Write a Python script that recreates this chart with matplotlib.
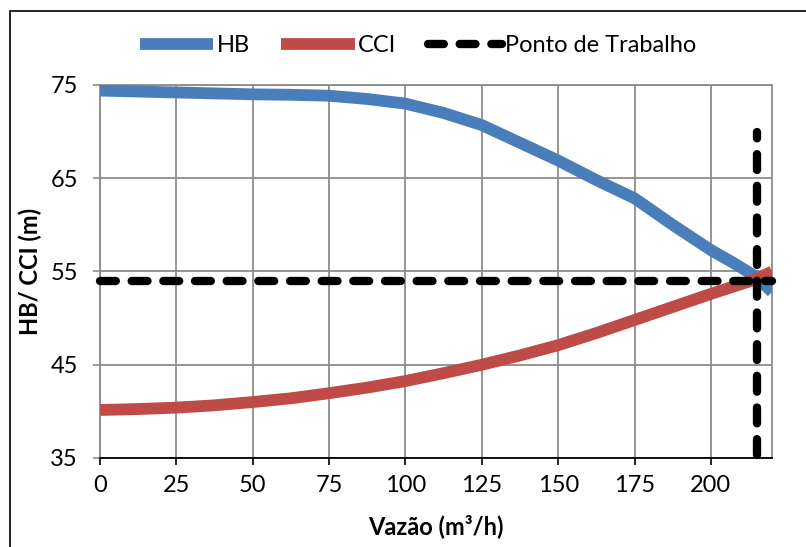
import matplotlib
matplotlib.use("Agg")
import matplotlib.pyplot as plt
from matplotlib.patches import Rectangle

# Flow rate (m³/h) and head curves (m)
vazao = [0, 12.5, 25, 37.5, 50, 62.5, 75, 87.5, 100, 112.5, 125, 137.5,
         150, 162.5, 175, 187.5, 200, 207.5, 215, 220]
hb = [74.4, 74.3, 74.2, 74.1, 74.0, 73.95, 73.85, 73.5, 73.0, 72.0, 70.7, 68.8,
      66.9, 64.8, 62.85, 60.0, 57.3, 55.9, 54.4, 52.8]
cci = [40.15, 40.25, 40.4, 40.65, 41.0, 41.4, 41.95, 42.55, 43.25, 44.1, 45.0, 46.0,
       47.1, 48.4, 49.8, 51.2, 52.6, 53.4, 54.2, 55.0]

# Operating point
q_trabalho = 215
h_trabalho = 54
h_topo_vertical = 70

x_ticks = [0, 25, 50, 75, 100, 125, 150, 175, 200]
y_ticks = [35, 45, 55, 65, 75]

plt.rcParams['font.family'] = ['Lato', 'DejaVu Sans']
FS = 17

W, H = 806, 547
fig = plt.figure(figsize=(W / 100, H / 100), dpi=100)

# chart-area frame
fig.patches.append(Rectangle((10 / W, -0.05), 1.2, 1 - 11 / H + 0.05,
                             transform=fig.transFigure, fill=False,
                             edgecolor='black', linewidth=1.2))

ax = fig.add_axes([100 / W, (H - 458) / H, 672 / W, 373 / H])

grid_c = '#8c8c8c'
ax.set_xlim(0, 220)
ax.set_ylim(35, 75)
ax.set_xticks(x_ticks)
ax.set_yticks(y_ticks)
ax.grid(True, color=grid_c, linewidth=1.3)
ax.set_axisbelow(True)

for s in ['left', 'top', 'right']:
    ax.spines[s].set_color(grid_c)
    ax.spines[s].set_linewidth(1.3)
ax.spines['bottom'].set_color('black')
ax.spines['bottom'].set_linewidth(1.3)

ax.tick_params(axis='y', direction='out', length=5, width=1.2, color=grid_c,
               labelsize=FS, pad=11)
ax.tick_params(axis='x', direction='out', length=5, width=1.2, color='black',
               labelsize=FS, pad=7)

ax.plot(vazao, hb, color='#4A7EBB', linewidth=8.5, solid_capstyle='butt',
        label='HB', zorder=3)
ax.plot(vazao, cci, color='#BE4B48', linewidth=8.5, solid_capstyle='butt',
        label='CCI', zorder=3)

dash_kw = dict(color='black', linewidth=6, dashes=(1.9, 1.9),
               dash_capstyle='round', zorder=4, clip_on=False)
ax.plot([0, 220], [h_trabalho, h_trabalho], label='Ponto de Trabalho', **dash_kw)
ax.plot([q_trabalho, q_trabalho], [35.3, h_topo_vertical], **dash_kw)

ax.set_xlabel('Vazão (m³/h)', fontsize=FS, fontweight='bold', labelpad=13)
ax.set_ylabel('HB/ CCI (m)', fontsize=FS, fontweight='bold', labelpad=6)

handles, labels = ax.get_legend_handles_labels()
fig.legend(handles, labels, loc='center', bbox_to_anchor=(418 / W, 1 - 46 / H),
           ncol=3, frameon=False, fontsize=FS, handlelength=3.1,
           handletextpad=0.15, columnspacing=1.35)

fig.savefig('out.png', dpi=100)
